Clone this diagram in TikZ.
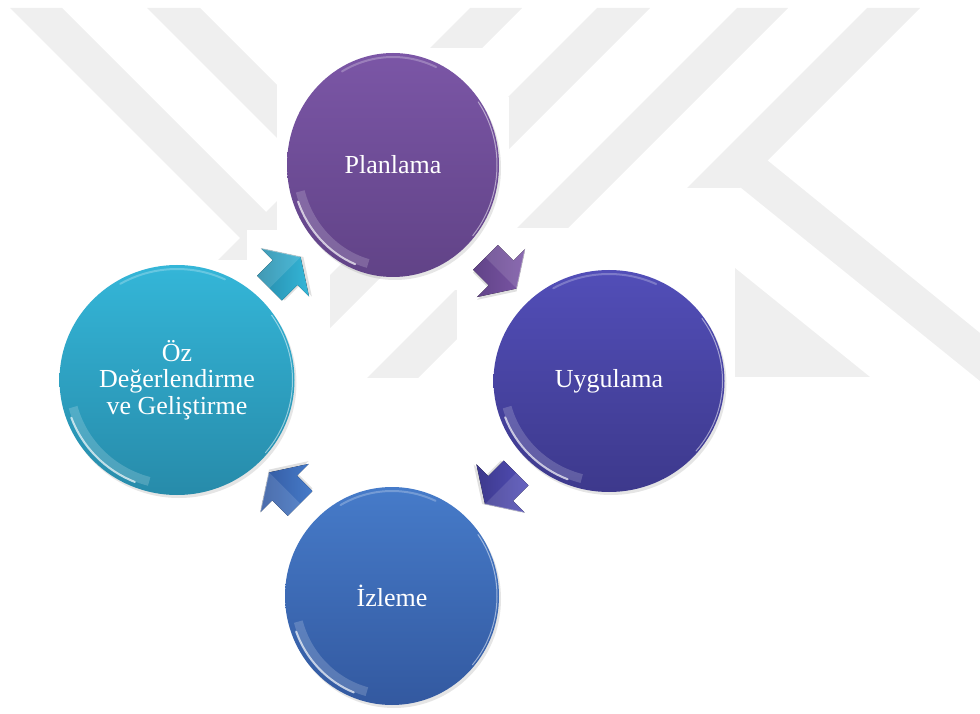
\documentclass[tikz,border=0pt]{standalone}
\usepackage{fontspec}
\setmainfont{Liberation Serif}
\usetikzlibrary{shapes.geometric,calc,shadows}

\definecolor{wmgray}{RGB}{239,239,239}
\definecolor{planTop}{RGB}{123,86,166}
\definecolor{planBot}{RGB}{97,67,135}
\definecolor{uygTop}{RGB}{82,78,184}
\definecolor{uygBot}{RGB}{61,57,140}
\definecolor{ozTop}{RGB}{52,182,216}
\definecolor{ozBot}{RGB}{39,139,170}
\definecolor{izlTop}{RGB}{70,123,201}
\definecolor{izlBot}{RGB}{51,89,160}

% glossy rim highlights of a bubble: node name, x radius, y radius
\newcommand\shine[3]{%
  \draw[white,opacity=0.18,line width=9pt]
    ([shift={(195:{#2-10} and {#3-10})}]#1.center)
    arc[start angle=195,end angle=255,x radius={#2-10},y radius={#3-10}];
  \draw[white,opacity=0.7,line width=2pt,line cap=round]
    ([shift={(200:{#2-5} and {#3-5})}]#1.center)
    arc[start angle=200,end angle=248,x radius={#2-5},y radius={#3-5}];
  \draw[white,opacity=0.25,line width=2pt,line cap=round]
    ([shift={(65:{#2-4} and {#3-4})}]#1.center)
    arc[start angle=65,end angle=120,x radius={#2-4},y radius={#3-4}];
  \draw[white,opacity=0.5,line width=1pt,line cap=round]
    ([shift={(-40:{#2-2} and {#3-2})}]#1.center)
    arc[start angle=-40,end angle=35,x radius={#2-2},y radius={#3-2}];
}

% short block arrow halfway between two bubbles: from, to, angle, light, dark
\newcommand\cyclearrow[5]{%
  \begin{scope}[shift={($(#1)!0.5!(#2)$)},rotate=#3]
    \fill[black,opacity=0.12] (-20,-19.5) -- (2,-19.5) -- (2,-36) -- (24,-2)
      -- (2,32) -- (2,15.5) -- (-20,15.5) -- cycle;
    \fill[left color=#5,right color=#4]
      (-22,-17.5) -- (0,-17.5) -- (0,-34) -- (22,0) -- (0,34) -- (0,17.5)
      -- (-22,17.5) -- cycle;
    \fill[white,opacity=0.12]
      (-22,0) -- (-22,17.5) -- (0,17.5) -- (0,34) -- (22,0) -- cycle;
    \draw[white,opacity=0.45,line width=0.8pt] (0,34) -- (22,0);
  \end{scope}}

\begin{document}
\begin{tikzpicture}[x=1pt,y=1pt,
  wm/.style={fill=wmgray,draw=none},
  blank/.style={fill=white,draw=none},
  bubble/.style={ellipse,inner sep=0pt,text=white,align=center,
    font=\fontsize{26}{26.5}\selectfont,
    drop shadow={shadow xshift=2pt,shadow yshift=-3pt,opacity=0.2}}]
\useasboundingbox (0,0) rectangle (980,713);

% faint watermark bands behind the diagram (drawn in page coordinates, y down)
\begin{scope}[shift={(0,713)},yscale=-1]
  \fill[wm] (10,8) -- (62,8) -- (330,276) -- (278,276) -- cycle;
  \fill[wm] (147,8) -- (200,8) -- (400,208) -- (347,208) -- cycle;
  \fill[wm] (470,8) -- (522,8) -- (250,280) -- (198,280) -- cycle;
  \fill[wm] (597,8) -- (650,8) -- (300,358) -- (247,358) -- cycle;
  \fill[wm] (737,8) -- (788,8) -- (390,406) -- (339,406) -- cycle;
  \fill[wm] (867,8) -- (920,8) -- (740,188) -- (687,188) -- cycle;
  \fill[wm] (767,160) -- (980,333) -- (980,381) -- (740,187) -- cycle;
  \fill[wm] (735,268) -- (870,377) -- (700,377) -- (700,268) -- cycle;
  % plain white panels around the diagram parts
  \fill[blank] (277,48) rectangle (490,230);
  \fill[blank] (440,97) rectangle (509,290);
  \fill[blank] (457,228) rectangle (698,713);
  \fill[blank] (509,267) rectangle (735,713);
  \fill[blank] (247,230) rectangle (330,290);
  \fill[blank] (0,260) rectangle (330,713);
  \fill[blank] (330,378) rectangle (457,713);
\end{scope}

% the four stages
\node[bubble,minimum width=212pt,minimum height=224pt,
  top color=planTop,bottom color=planBot] (plan) at (393,548) {Planlama};
\node[bubble,minimum width=231pt,minimum height=222pt,
  top color=uygTop,bottom color=uygBot] (uyg) at (609,332) {Uygulama};
\node[bubble,minimum width=214pt,minimum height=218pt,
  top color=izlTop,bottom color=izlBot] (izl) at (392,117) {İzleme};
\node[bubble,minimum width=235pt,minimum height=230pt,
  top color=ozTop,bottom color=ozBot] (oz) at (177,333)
  {Öz\\Değerlendirme\\ve Geliştirme};

\shine{plan}{106}{112}
\shine{uyg}{115.5}{111}
\shine{izl}{107}{109}
\shine{oz}{117.5}{115}

% arrows of the cycle
\cyclearrow{oz}{plan}{45}{ozTop}{ozBot}
\cyclearrow{plan}{uyg}{-45}{planTop}{planBot}
\cyclearrow{uyg}{izl}{-135}{uygTop}{uygBot}
\cyclearrow{izl}{oz}{135}{izlTop}{izlBot}
\end{tikzpicture}
\end{document}
